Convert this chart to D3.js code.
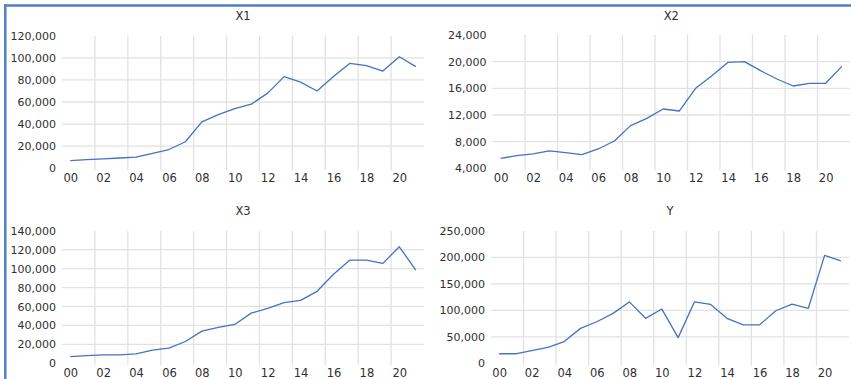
<!DOCTYPE html>
<html>
<head>
<meta charset="utf-8">
<script src="https://cdn.jsdelivr.net/npm/d3@7"></script>
<style>
  html, body { margin: 0; padding: 0; background: #ffffff; }
  svg { display: block; }
  text { font-family: "DejaVu Sans", sans-serif; fill: #303030; }
</style>
</head>
<body>
<svg id="chart" width="851" height="379"></svg>
<script>
// ---- data ----
const years = ["00","01","02","03","04","05","06","07","08","09","10",
               "11","12","13","14","15","16","17","18","19","20","21"];
const x1Values = [7000, 7800, 8500, 9300, 10200, 13500, 17000, 24000, 42000, 48500, 54000,
                  58000, 68000, 83000, 78000, 70000, 83000, 95000, 93000, 88000, 101000, 92000];
const x2Values = [5500, 5900, 6150, 6600, 6350, 6050, 6900, 8100, 10400, 11500, 12900,
                  12600, 16000, 17900, 19900, 20000, 18650, 17400, 16350, 16750, 16750, 19300];
const x3Values = [7000, 8000, 9000, 9000, 10000, 14000, 16000, 23000, 34000, 38000, 41000,
                  53000, 58000, 64000, 66500, 76000, 94000, 109000, 109000, 105500, 123000, 98500];
const yValues  = [18000, 18000, 24000, 30000, 41000, 66000, 78500, 94300, 116000, 85000, 102500,
                  48500, 116000, 111300, 85000, 72500, 72500, 99300, 112000, 104000, 204000, 193500];

const x1Ticks = [0, 20000, 40000, 60000, 80000, 100000, 120000];
const x2Ticks = [4000, 8000, 12000, 16000, 20000, 24000];
const x3Ticks = [0, 20000, 40000, 60000, 80000, 100000, 120000, 140000];
const yTicks  = [0, 50000, 100000, 150000, 200000, 250000];

const titles = ["X1", "X2", "X3", "Y"];

// ---- layout ----
const svg = d3.select("#chart");
const lineColor = "#4472C4";
const gridColor = "#e2e2e2";

const panels = [
  { title: titles[0], values: x1Values, ticks: x1Ticks, left: 62,  right: 424, top: 35.7, bottom: 168.3, titleY: 20 },
  { title: titles[1], values: x2Values, ticks: x2Ticks, left: 492.5, right: 850, top: 35,   bottom: 168.3, titleY: 20 },
  { title: titles[2], values: x3Values, ticks: x3Ticks, left: 62,  right: 424, top: 230.7, bottom: 363.3, titleY: 215 },
  { title: titles[3], values: yValues,  ticks: yTicks,  left: 491, right: 849, top: 231,  bottom: 363.3, titleY: 215 }
];

panels.forEach(p => {
  const g = svg.append("g");
  const idx = d3.range(years.length);
  const x = d3.scaleLinear().domain([-0.5, years.length - 0.5]).range([p.left, p.right]);
  const y = d3.scaleLinear().domain([p.ticks[0], p.ticks[p.ticks.length - 1]]).range([p.bottom, p.top]);

  // vertical gridlines at category boundaries (every 2 categories)
  const vLines = d3.range(1.5, years.length - 1, 2);
  g.append("g").selectAll("line").data(vLines).join("line")
    .attr("x1", d => x(d)).attr("x2", d => x(d))
    .attr("y1", p.top).attr("y2", p.bottom + 2)
    .attr("stroke", gridColor).attr("stroke-width", 1.3);

  // horizontal gridlines (interior ticks)
  g.append("g").selectAll("line").data(p.ticks.slice(1, -1)).join("line")
    .attr("x1", p.left).attr("x2", p.right)
    .attr("y1", d => y(d)).attr("y2", d => y(d))
    .attr("stroke", gridColor).attr("stroke-width", 1.3);

  // y axis
  const yAxis = d3.axisLeft(y).tickValues(p.ticks).tickSize(0).tickPadding(6)
    .tickFormat(d3.format(","));
  const ya = g.append("g").attr("transform", `translate(${p.left},0)`).call(yAxis);
  ya.select(".domain").remove();
  ya.selectAll("text").style("font-family", "DejaVu Sans, sans-serif")
    .style("font-size", "11px").attr("fill", "#303030");

  // x axis
  const xAxis = d3.axisBottom(x).tickValues(idx.filter(i => i % 2 === 0)).tickSize(0).tickPadding(5)
    .tickFormat(i => years[i]);
  const xa = g.append("g").attr("transform", `translate(0,${p.bottom + 1})`).call(xAxis);
  xa.select(".domain").remove();
  xa.selectAll("text").style("font-family", "DejaVu Sans, sans-serif")
    .style("font-size", "11.5px").attr("fill", "#303030");

  // line
  const line = d3.line().x((d, i) => x(i)).y(d => y(d));
  g.append("path").datum(p.values)
    .attr("d", line).attr("fill", "none")
    .attr("stroke", lineColor).attr("stroke-width", 1.3)
    .attr("stroke-linejoin", "round");

  // title
  g.append("text").attr("x", (p.left + p.right) / 2).attr("y", p.titleY)
    .attr("text-anchor", "middle").style("font-size", "11.5px").text(p.title);
});

// selection border (top and left edges)
svg.append("line").attr("x1", 4).attr("x2", 851).attr("y1", 5.5).attr("y2", 5.5)
  .attr("stroke", "#4F81C4").attr("stroke-width", 2.5);
svg.append("line").attr("x1", 5.3).attr("x2", 5.3).attr("y1", 4.3).attr("y2", 379)
  .attr("stroke", "#4F81C4").attr("stroke-width", 2.5);
</script>
</body>
</html>
